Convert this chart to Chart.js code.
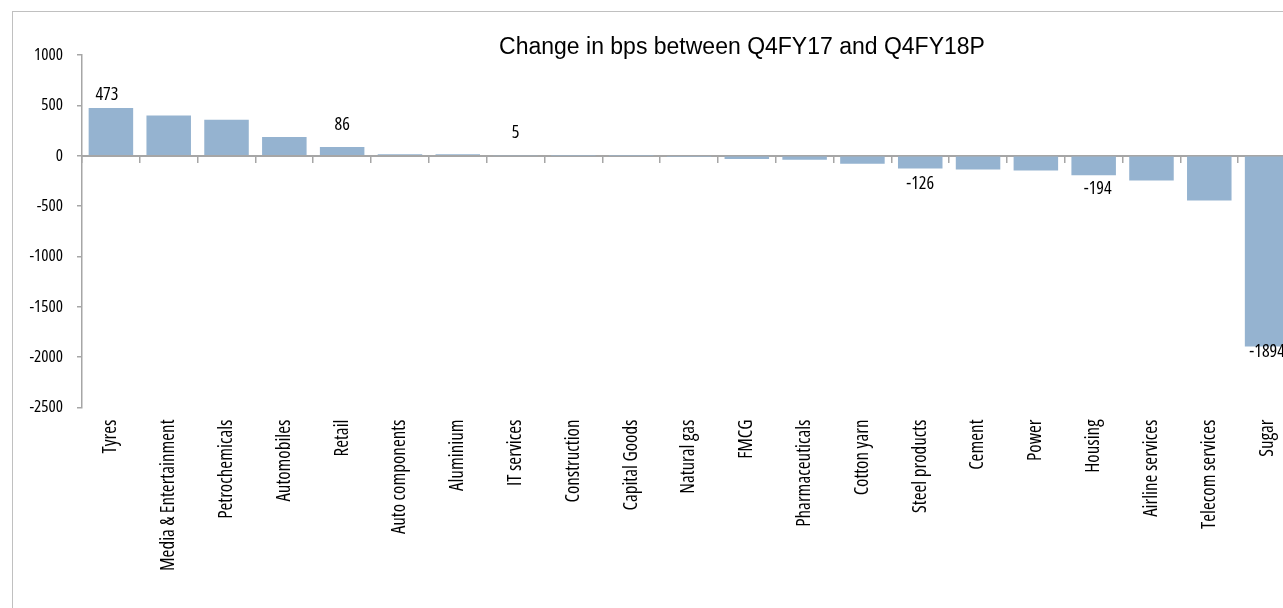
<!DOCTYPE html>
<html>
<head>
<meta charset="utf-8">
<script src="https://cdn.jsdelivr.net/npm/chart.js@4.4.1/dist/chart.umd.min.js"></script>
<style>
html,body{margin:0;padding:0;overflow:hidden;background:#fff;width:1283px;height:608px;}
#frame{position:absolute;left:12px;top:11px;border-left:1px solid #c0c0c0;border-top:1px solid #c0c0c0;width:1400px;height:700px;}
#c{position:absolute;left:0;top:0;}
</style>
</head>
<body>
<div id="frame"><canvas id="c" width="1310" height="600"></canvas></div>
<script>
const categories = ['Tyres','Media & Entertainment','Petrochemicals','Automobiles','Retail','Auto components','Aluminium','IT services','Construction','Capital Goods','Natural gas','FMCG','Pharmaceuticals','Cotton yarn','Steel products','Cement','Power','Housing','Airline services','Telecom services','Sugar'];
const values = [473, 400, 357, 187, 86, 15, 14, 5, 2, 1, -2, -33, -40, -80, -126, -136, -146, -194, -246, -445, -1894];
const yTicks = [1000, 500, 0, -500, -1000, -1500, -2000, -2500];
const labelledCategories = ['Tyres','Retail','IT services','Steel products','Housing','Sugar'];
const chartTitle = 'Change in bps between Q4FY17 and Q4FY18P';

// pick the narrowest installed sans face (the original uses a very condensed font)
const mctx = document.createElement('canvas').getContext('2d');
const familyCandidates = ['"Liberation Sans Narrow"', '"Arial Narrow"', '"DejaVu Sans Condensed"', '"DejaVu Sans"', '"Open Sans"', 'Roboto', '"Noto Sans"', 'Inter', 'Lato', '"Liberation Sans"'];
function widthOf(txt, size, fam, stretch) {
  mctx.font = (stretch ? stretch + ' ' : '') + size + 'px ' + fam;
  return mctx.measureText(txt).width;
}
let best = {fam: '"Liberation Sans"', stretch: '', w: Infinity};
familyCandidates.forEach(fam => {
  ['condensed', ''].forEach(st => {
    const w = widthOf('Media & Entertainment', 18, fam, st);
    if (w < best.w - 0.5) best = {fam, stretch: st, w};
  });
});
const narrow = best.fam;
const stretchWeight = best.stretch || undefined;
function fitSize(txt, target, maxSize) {
  const w = widthOf(txt, 20, narrow, best.stretch);
  return Math.min(maxSize, Math.round(20 * target / w * 2) / 2);
}
const catSize = fitSize('Media & Entertainment Automobiles Tyres', 272, 19);
const ySize = fitSize('-2500', 39, 17);
const valSize = fitSize('473', 23, 18);

const axisGray = '#a6a6a6';

const titlePlugin = {
  id: 'floatTitle',
  afterDraw(chart, args, opts) {
    const ctx = chart.ctx;
    ctx.save();
    ctx.font = opts.size + 'px "Liberation Sans", Arial, sans-serif';
    ctx.fillStyle = '#000';
    ctx.textAlign = 'center';
    ctx.textBaseline = 'alphabetic';
    ctx.fillText(opts.text, opts.x, opts.y);
    ctx.restore();
  }
};

const valueLabelPlugin = {
  id: 'valueLabels',
  afterDatasetsDraw(chart, args, opts) {
    const meta = chart.getDatasetMeta(0);
    const ctx = chart.ctx;
    ctx.save();
    ctx.font = (best.stretch ? best.stretch + ' ' : '') + opts.size + 'px ' + narrow;
    ctx.fillStyle = '#000';
    ctx.textAlign = 'center';
    ctx.textBaseline = 'middle';
    meta.data.forEach((bar, i) => {
      const cat = categories[i];
      if (!labelledCategories.includes(cat)) return;
      const off = opts.offsets[cat] || {dx: 0, dy: 0};
      ctx.fillText(String(values[i]), bar.x + off.dx, bar.y + off.dy);
    });
    ctx.restore();
  }
};

new Chart(document.getElementById('c'), {
  type: 'bar',
  data: {
    labels: categories,
    datasets: [{
      data: values,
      backgroundColor: '#95b3d0',
      borderWidth: 0,
      barPercentage: 0.77,
      categoryPercentage: 1,
      xAxisID: 'x',
      yAxisID: 'y'
    }]
  },
  options: {
    responsive: false,
    animation: false,
    devicePixelRatio: 1,
    layout: {padding: {left: 0, top: 43, right: 27, bottom: 0}},
    plugins: {
      legend: {display: false},
      title: {display: false},
      tooltip: {enabled: false},
      floatTitle: {text: chartTitle, x: 729, y: 42, size: 23},
      valueLabels: {
        size: valSize,
        offsets: {
          'Tyres': {dx: -4, dy: -13},
          'Retail': {dx: 0, dy: -22},
          'IT services': {dx: 0, dy: -22},
          'Steel products': {dx: 0, dy: 15},
          'Housing': {dx: 4, dy: 14},
          'Sugar': {dx: 0, dy: 5}
        }
      }
    },
    scales: {
      y: {
        min: -2500,
        max: 1000,
        afterBuildTicks: s => { s.ticks = yTicks.map(v => ({value: v})); },
        ticks: {padding: 14, color: '#000', font: {family: narrow, size: ySize, weight: stretchWeight},
                callback: v => String(v)},
        grid: {drawOnChartArea: false, drawTicks: true, tickLength: 5, color: axisGray, lineWidth: 1.5},
        border: {color: axisGray, width: 1.5},
        afterFit: s => { s.width = 69; }
      },
      x: {
        type: 'category',
        position: {y: 0},
        offset: true,
        ticks: {display: false},
        grid: {offset: true, drawOnChartArea: false, drawTicks: true, tickLength: 6, color: axisGray, lineWidth: 1.5},
        border: {color: axisGray, width: 2}
      },
      x2: {
        type: 'category',
        labels: categories,
        position: 'bottom',
        offset: true,
        grid: {display: false, drawTicks: false},
        border: {display: false},
        ticks: {autoSkip: false, maxRotation: 90, minRotation: 90, padding: 12, color: '#000',
                font: {family: narrow, size: catSize, weight: stretchWeight}},
        afterFit: s => { s.height = 204.5; }
      }
    }
  },
  plugins: [titlePlugin, valueLabelPlugin]
});
</script>
</body>
</html>
